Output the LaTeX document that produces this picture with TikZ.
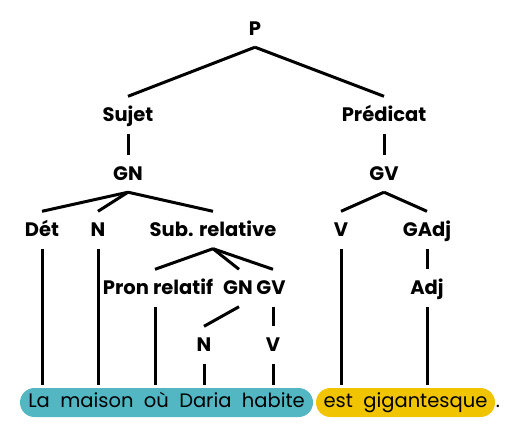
\documentclass[tikz,border=0pt]{standalone}
\usepackage{fontspec}
\setmainfont{Poppins}
\newfontfamily\sentfont{Poppins}[WordSpace=2]
\definecolor{tealbox}{HTML}{52B6C3}
\definecolor{yellowbox}{HTML}{F1C400}
\begin{document}
\begin{tikzpicture}[x=1pt,y=-1pt,
  lab/.style={font=\fontsize{19.5}{22}\selectfont\bfseries, inner sep=0pt, text height=13pt, text depth=0pt, minimum height=37pt},
  edge/.style={line width=3pt},
  sent/.style={font=\sentfont\fontsize{19.5}{22}\selectfont, rounded corners=14.5pt, minimum height=29pt, inner sep=0pt, outer ysep=3.5pt, text height=13.5pt, text depth=4pt}]
\useasboundingbox (0,0) rectangle (518,437);
\node[lab] (P) at (255,28.5) {P};
\node[lab] (Suj) at (128,115) {Sujet};
\node[lab] (Pred) at (384,115) {Prédicat};
\node[lab] (GN) at (128,173.5) {GN};
\node[lab] (GV) at (384,173.5) {GV};
\node[lab] (Det) at (42,230) {Dét};
\node[lab] (N) at (98,230) {N};
\node[lab] (Sub) at (213,230) {Sub. relative};
\node[lab] (V) at (341,230) {V};
\node[lab] (GAdj) at (427,230) {GAdj};
\node[lab] (Pron) at (158,288) {Pron relatif};
\node[lab] (GNb) at (238,288) {GN};
\node[lab] (GVb) at (271,288) {GV};
\node[lab] (Adj) at (427,288) {Adj};
\node[lab] (Nb) at (204,345) {N};
\node[lab] (Vb) at (273,345) {V};
\node[sent, fill=tealbox, minimum width=293pt] (teal) at (166.5,402.5) {La maison où Daria habite};
\node[sent, fill=yellowbox, minimum width=179pt] (yel) at (405.5,402.5) {est gigantesque};
\node[font=\sentfont\fontsize{19.5}{22}\selectfont, inner sep=0pt, anchor=base west] (dot) at ([xshift=0.5pt]yel.base east) {.};
\draw[edge] (P.south) -- (Suj.north);
\draw[edge] (P.south) -- (Pred.north);
\draw[edge] (Suj.south) -- (GN.north);
\draw[edge] (Pred.south) -- (GV.north);
\draw[edge] (GN.south) -- (Det.north);
\draw[edge] (GN.south) -- (N.north);
\draw[edge] (GN.south) -- (Sub.north);
\draw[edge] (GV.south) -- (V.north);
\draw[edge] (GV.south) -- (GAdj.north);
\draw[edge] (Sub.south) -- ([xshift=-3pt]Pron.north);
\draw[edge] (Sub.south) -- ([xshift=1pt]GNb.north);
\draw[edge] (Sub.south) -- ([xshift=2pt]GVb.north);
\draw[edge] (GAdj.south) -- (Adj.north);
\draw[edge] ([xshift=1pt]GNb.south) -- (Nb.north);
\draw[edge] ([xshift=2pt]GVb.south) -- (Vb.north);
\draw[edge] (Det.south) -- (Det.south |- teal.north);
\draw[edge] (N.south) -- (N.south |- teal.north);
\draw[edge] ([xshift=-3pt]Pron.south) -- ([xshift=-3pt]Pron.south |- teal.north);
\draw[edge] (Nb.south) -- (Nb.south |- teal.north);
\draw[edge] (Vb.south) -- (Vb.south |- teal.north);
\draw[edge] (V.south) -- (V.south |- yel.north);
\draw[edge] (Adj.south) -- (Adj.south |- yel.north);
\end{tikzpicture}
\end{document}
